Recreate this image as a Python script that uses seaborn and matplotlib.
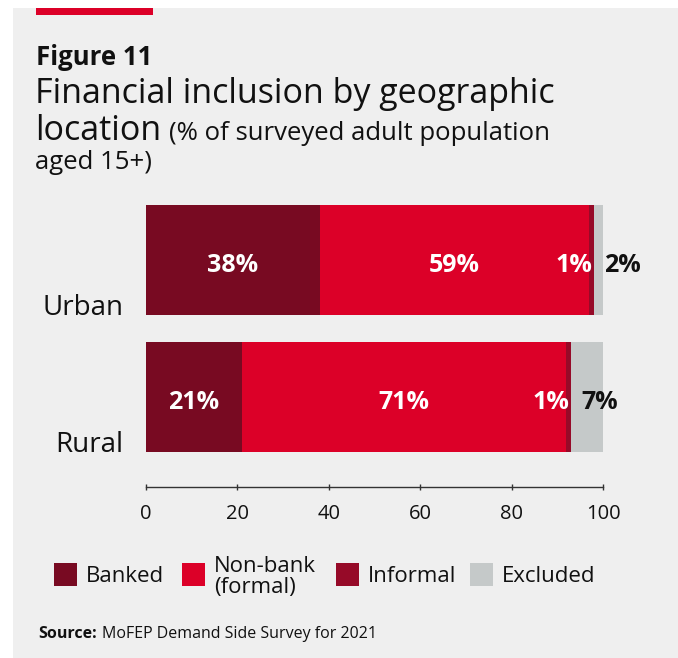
import matplotlib
matplotlib.use("Agg")
import matplotlib.pyplot as plt
from matplotlib.patches import Rectangle
import numpy as np
import pandas as pd
import seaborn as sns

# ---- data -------------------------------------------------------------
locations = ["Urban", "Rural"]
banked = [38, 21]
non_bank = [59, 71]
informal = [1, 1]
excluded = [2, 7]
segment_names = ["Banked", "Non-bank\n(formal)", "Informal", "Excluded"]
segment_colors = ["#780A22", "#DC0028", "#960A28", "#C5C9C9"]
x_ticks = [0, 20, 40, 60, 80, 100]

# ---- style ------------------------------------------------------------
sns.set_theme(style="white")
plt.rcParams["font.family"] = ["Open Sans", "DejaVu Sans"]
TEXT = "#111111"
BG = "#EFEFEF"

W, H = 678, 658
def fx(x):
    return x / W
def fy(y):
    return 1 - y / H

fig = plt.figure(figsize=(W / 100, H / 100), dpi=100, facecolor="white")
fig.patches.append(Rectangle((fx(13), 0), 1 - fx(13), fy(8), transform=fig.transFigure,
                             facecolor=BG, edgecolor="none", zorder=-10))
fig.patches.append(Rectangle((fx(36), fy(15)), fx(153) - fx(36), 7 / H,
                             transform=fig.transFigure, facecolor="#DC0028",
                             edgecolor="none", zorder=-5))

# ---- titles -----------------------------------------------------------
fig.text(fx(36), fy(65), "Figure 11", fontsize=18.5, fontweight="bold", color=TEXT,
         va="baseline")
fig.text(fx(35), fy(103), "Financial inclusion by geographic", fontsize=24.5,
         fontweight="normal", color=TEXT, va="baseline")
loc_txt = fig.text(fx(35), fy(140), "location", fontsize=24.5, fontweight="normal",
                   color=TEXT, va="baseline")
fig.canvas.draw()
loc_end = loc_txt.get_window_extent().x1
fig.text((loc_end + 8) / W, fy(140), "(% of surveyed adult population", fontsize=18.5,
         fontweight="normal", color=TEXT, va="baseline")
fig.text(fx(35), fy(169), "aged 15+)", fontsize=18.5, fontweight="normal", color=TEXT,
         va="baseline")

# ---- stacked bars -----------------------------------------------------
ax = fig.add_axes([fx(146), fy(487), fx(603) - fx(146), (487 - 190) / H])
ax.set_zorder(5)
ax.set_facecolor("none")

segments = np.array([banked, non_bank, informal, excluded], dtype=float)
ends = segments.cumsum(axis=0)
starts = ends - segments

# draw cumulative totals from the longest to the shortest so they stack
for k in range(len(segments) - 1, -1, -1):
    df = pd.DataFrame({"location": locations, "value": ends[k]})
    sns.barplot(data=df, x="value", y="location", orient="h", color=segment_colors[k],
                saturation=1, width=0.8, linewidth=0, ax=ax)

ax.set_xlim(0, 100)
ax.set_ylim(1.657, -0.511)
ax.set_xticks(x_ticks)
ax.set_xticklabels([str(t) for t in x_ticks], fontsize=14.5, fontweight="normal", color=TEXT)
ax.set_yticks([])
ax.set_xlabel("")
ax.set_ylabel("")
for s in ["top", "right", "left"]:
    ax.spines[s].set_visible(False)
ax.spines["bottom"].set_color("#333333")
ax.spines["bottom"].set_linewidth(1.0)
ax.tick_params(axis="x", direction="inout", length=5, width=1, color="#333333", pad=10,
               bottom=True)

# category labels sit at the bottom edge of each bar
ytrans = ax.get_yaxis_transform()
for i, name in enumerate(locations):
    ax.text(-0.05, i + 0.4, name, transform=ytrans, ha="right", va="baseline",
            fontsize=20, fontweight="normal", color=TEXT)

# value labels
for i in range(len(locations)):
    yv = i + 0.04
    for k in (0, 1):
        ax.text((starts[k][i] + ends[k][i]) / 2, yv, f"{segments[k][i]:.0f}%",
                ha="center", va="center", fontsize=18, fontweight="bold", color="white")
    ax.text(ends[2][i] - 0.3, yv, f"{segments[2][i]:.0f}%", ha="right", va="center",
            fontsize=18, fontweight="bold", color="white")
    ax.text(ends[2][i] + 2.2, yv, f"{segments[3][i]:.0f}%", ha="left", va="center",
            fontsize=18, fontweight="bold", color=TEXT)

# ---- legend -----------------------------------------------------------
legend_x = [54, 182, 336, 470]
for name, color, x in zip(segment_names, segment_colors, legend_x):
    fig.patches.append(Rectangle((fx(x), fy(586)), 23 / W, 23 / H, transform=fig.transFigure,
                                 facecolor=color, edgecolor="none"))
    fig.text(fx(x + 32), fy(577), name, fontsize=16, fontweight="normal", color=TEXT,
             va="center", ha="left", linespacing=1.05)

# ---- source -----------------------------------------------------------
src = fig.text(fx(38), fy(634), "Source:", fontsize=11.5, fontweight="bold", color=TEXT,
               va="center")
fig.canvas.draw()
src_end = src.get_window_extent().x1
fig.text((src_end + 5) / W, fy(634), "MoFEP Demand Side Survey for 2021", fontsize=11.5,
         color=TEXT, va="center")

fig.savefig("out.png", dpi=100, facecolor=fig.get_facecolor())
